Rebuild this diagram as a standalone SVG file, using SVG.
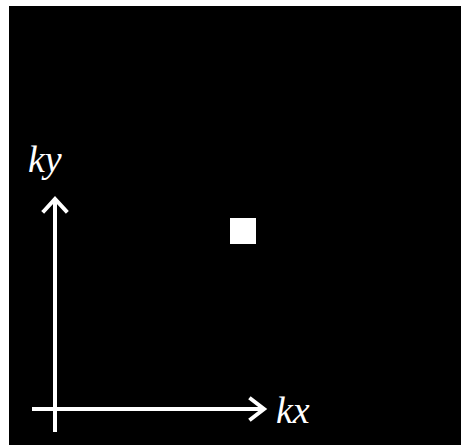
<svg xmlns="http://www.w3.org/2000/svg" width="461" height="445" viewBox="0 0 461 445">
<style>
.ax{stroke:#fff;stroke-width:4;fill:none}
.head{stroke:#fff;stroke-width:4;fill:none;stroke-linecap:square;stroke-linejoin:miter}
.lbl{fill:#fff;font-family:"Liberation Serif","DejaVu Serif",serif;font-style:italic;font-size:38px}
</style>
<rect x="0" y="0" width="461" height="445" fill="#fff"/>
<rect x="9" y="6" width="452" height="439" fill="#000"/>
<g id="point"><rect x="230" y="218" width="26" height="26" fill="#fff"/></g>
<g id="connectors">
<line class="ax" x1="55" y1="432" x2="55" y2="198"/>
<polyline class="head" points="44,211 55,199 66,211"/>
<line class="ax" x1="32" y1="409" x2="264" y2="409"/>
<polyline class="head" points="251,399 264,409 251,419"/>
</g>
<g id="label-ky"><text class="lbl" x="28" y="172">ky</text></g>
<g id="label-kx"><text class="lbl" x="276" y="423">kx</text></g>
</svg>
